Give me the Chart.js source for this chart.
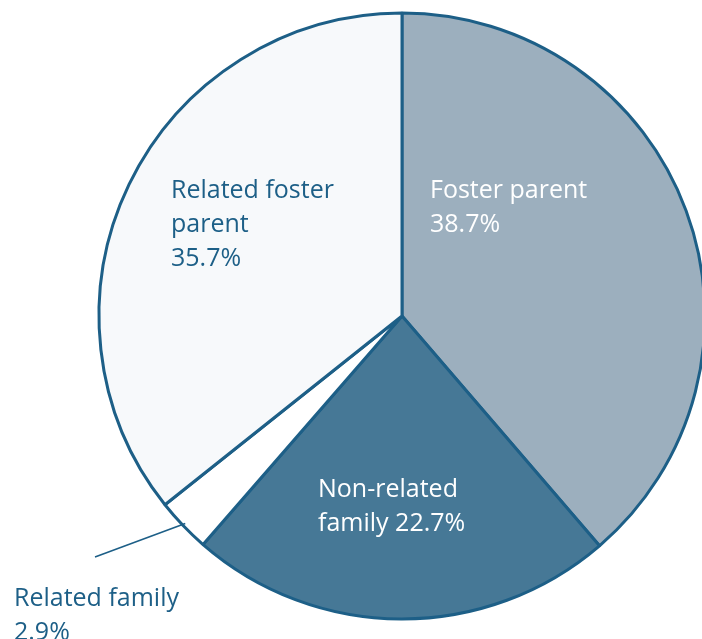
<!DOCTYPE html>
<html>
<head>
<meta charset="utf-8">
<script src="https://cdn.jsdelivr.net/npm/chart.js@4.4.0/dist/chart.umd.min.js"></script>
<style>
  html, body { margin: 0; padding: 0; background: #fff; overflow: hidden; width: 702px; height: 639px; }
  #wrap { position: absolute; left: 0; top: -14px; width: 760px; height: 660px; }
</style>
</head>
<body>
<div id="wrap"><canvas id="placementChart" width="760" height="660"></canvas></div>
<script>
var categories = ['Foster parent', 'Non-related family', 'Related family', 'Related foster parent'];
var shares = [38.7, 22.7, 2.9, 35.7];
var sliceColors = ['#9cafbe', '#467896', '#ffffff', '#f7f9fb'];

// label lines per slice, offsets are relative to pie centre
var labelLines = [
    ['Foster parent', '38.7%'],
    ['Non-related', 'family 22.7%'],
    ['Related family', '2.9%'],
    ['Related foster', 'parent', '35.7%']
];
var labelPlace = [
    { dx: 28, dy: -118, color: '#ffffff' },
    { dx: -84, dy: 181, color: '#ffffff' },
    { dx: -388, dy: 290, color: '#1d5f87' },
    { dx: -231, dy: -118, color: '#1d5f87' }
];

var lineColor = '#1d5f87';

var sliceLabels = {
    id: 'sliceLabels',
    afterDatasetsDraw: function(chart) {
        var ctx = chart.ctx;
        var arcs = chart.getDatasetMeta(0).data;
        ctx.save();
        ctx.font = '25px "Open Sans", sans-serif';
        ctx.textAlign = 'left';
        ctx.textBaseline = 'alphabetic';
        arcs.forEach(function(arc, i) {
            var p = labelPlace[i];
            ctx.fillStyle = p.color;
            labelLines[i].forEach(function(txt, j) {
                ctx.fillText(txt, arc.x + p.dx, arc.y + p.dy + j * 34);
            });
        });
        // leader line for the small slice
        var small = arcs[2];
        var mid = (small.startAngle + small.endAngle) / 2;
        var r = small.outerRadius;
        var x0 = small.x + Math.cos(mid) * (r - 3);
        var y0 = small.y + Math.sin(mid) * (r - 3);
        ctx.strokeStyle = lineColor;
        ctx.lineWidth = 1.6;
        ctx.beginPath();
        ctx.moveTo(x0, y0);
        ctx.lineTo(small.x - 307, small.y + 241);
        ctx.stroke();
        ctx.restore();
    }
};

document.addEventListener('DOMContentLoaded', function() {
    var ctx = document.getElementById('placementChart').getContext('2d');
    new Chart(ctx, {
        type: 'pie',
        data: {
            labels: categories,
            datasets: [{
                data: shares,
                backgroundColor: sliceColors,
                borderColor: lineColor,
                borderWidth: 3
            }]
        },
        options: {
            responsive: false,
            animation: false,
            radius: 303,
            layout: { padding: { left: 44, right: 0, top: 0, bottom: 0 } },
            plugins: {
                legend: { display: false },
                tooltip: { enabled: false }
            }
        },
        plugins: [sliceLabels]
    });
});
</script>
</body>
</html>
